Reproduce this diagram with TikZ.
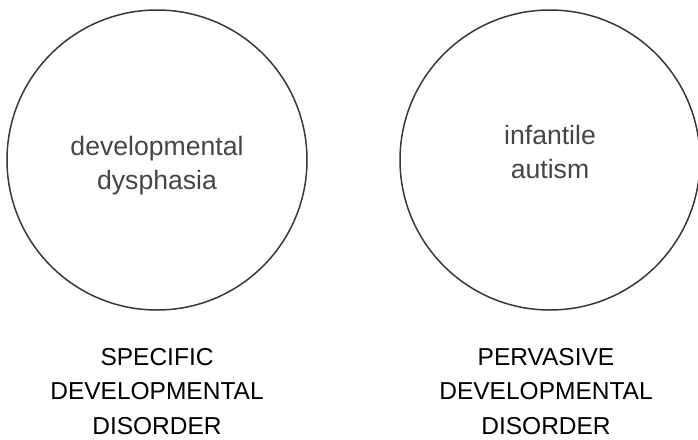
\documentclass[tikz,border=0pt]{standalone}
\usepackage{fontspec}
\setmainfont{Liberation Sans}
\usetikzlibrary{positioning}
\definecolor{circlegray}{rgb}{0.22,0.22,0.22}
\definecolor{textgray}{rgb}{0.27,0.27,0.27}

\begin{document}
\begin{tikzpicture}[x=1pt,y=1pt,node distance=37pt,
    main node/.style={circle,draw=circlegray,line width=1.5pt,minimum size=300pt,inner sep=0pt},
    term/.style={text=textgray,align=center,font=\fontsize{26.6}{34}\selectfont},
    group/.style={align=center,inner sep=0pt,font=\fontsize{24.5}{34.5}\selectfont}]
\useasboundingbox (0,0) rectangle (698,-439);
%Nodes
    \node[main node] (SDD) at (157,-160) {};
    \node[main node] (PDD) at (550,-160) {};
    \node[term] (dysphasia) at ([yshift=-6pt]SDD.center) {developmental\\dysphasia};
    \node[term] (autism) at ([yshift=8pt]PDD.center) {infantile\\autism};
%Labels
    \node[group, below=of SDD] (specific) {SPECIFIC\\DEVELOPMENTAL\\DISORDER};
    \node[group, below=of PDD, xshift=-4pt] (pervasive) {PERVASIVE\\DEVELOPMENTAL\\DISORDER};
\end{tikzpicture}
\end{document}
